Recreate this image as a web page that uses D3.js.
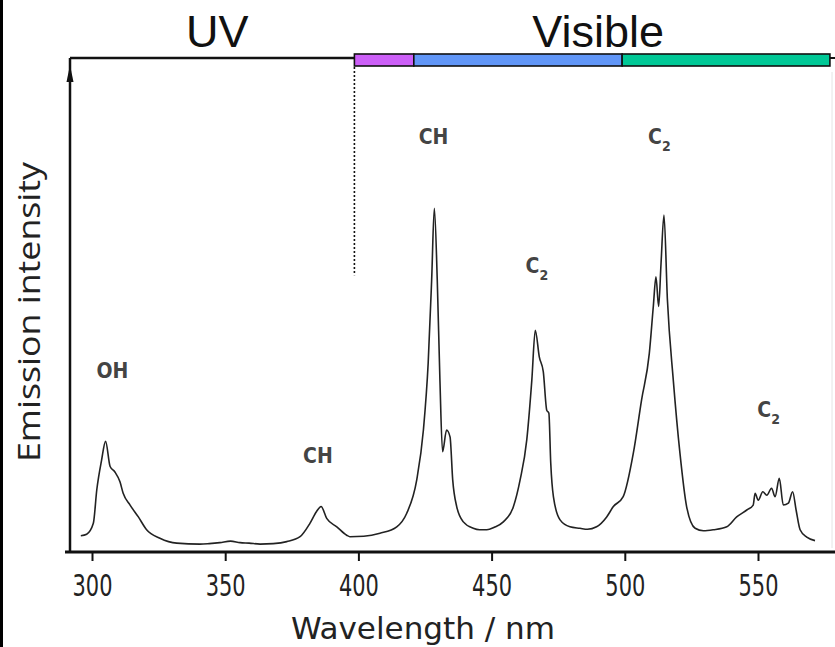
<!DOCTYPE html>
<html><head><meta charset="utf-8">
<script src="https://cdn.jsdelivr.net/npm/d3@7"></script>
<style>body{margin:0;background:#fff}svg{display:block}</style>
</head><body>
<svg id="c" width="835" height="647"></svg>
<script>
// wavelength (nm) of traced spectrum points
const wavelength = [295.8,298.0,300.5,301.8,303.6,305.1,306.8,308.6,310.5,311.7,314.3,317.4,320.5,325.5,331.8,340.5,344.0,348.0,352.0,355.6,359.0,363.1,368.0,373.1,378.1,381.8,384.3,386.0,388.1,391.9,395.6,396.8,402.0,408.1,414.4,418.1,421.9,424.4,426.2,427.5,428.5,429.6,430.6,431.6,433.1,434.4,435.4,436.9,439.4,443.1,445.5,448.2,451.0,454.4,458.2,460.7,463.2,465.1,466.4,467.9,469.4,470.7,471.5,472.2,473.2,475.7,479.4,483.2,486.0,489.4,493.2,495.7,499.4,503.2,506.3,509.2,510.7,511.7,512.7,513.6,514.7,516.0,518.2,520.7,523.2,526.4,529.5,533.2,538.3,542.0,545.8,548.2,548.9,550.1,551.8,553.3,555.1,556.4,558.0,559.5,561.4,563.0,564.3,565.8,568.3,571.4];
// emission intensity (arbitrary units, 0-100)
const intensity = [3.3,3.6,5.8,12.6,18.6,22.4,17.3,16.2,14.2,11.9,9.5,7.1,4.5,2.8,1.8,1.6,1.7,1.9,2.2,1.9,1.8,1.6,1.7,2.1,3.1,5.8,8.2,9.2,6.8,5.1,3.4,3.1,3.2,3.8,5.1,7.8,14.6,24.7,38.3,55.1,69.6,55.1,34.8,20.3,24.7,23.3,14.6,9.2,6.1,4.8,4.5,4.5,5.0,6.1,9.2,14.6,22.7,34.8,44.9,39.5,36.5,28.7,28.1,18.0,11.2,6.5,5.1,4.8,4.6,5.1,7.1,9.2,11.2,20.0,30.8,40.2,49.7,55.7,49.7,58.4,68.2,51.0,34.8,20.0,9.2,4.8,4.3,4.5,5.1,7.1,8.5,9.5,11.9,10.5,12.2,11.5,12.9,11.2,14.9,9.5,9.9,12.2,8.5,4.5,3.0,2.3];
const xTicks = [300,350,400,450,500,550];
// band labels: species, subscript, wavelength, intensity
const peakLabels = ["OH","CH","CH","C","C","C"];
const peakSubs = ["","","","2","2","2"];
const peakWl = [307.7,384.8,428.2,467.0,513.0,554.0];
const peakInt = [35.3,18.0,82.5,56.5,82.5,27.3];
// spectral regions of the top bar
const bandFrom = [398.5,420.8,499.0];
const bandTo = [420.8,499.0,577.0];
const bandColor = ["#cc5ff7","#6196f7","#00c896"];
const regionNames = ["UV","Visible"];
const regionCenter = [347,490];

const svg = d3.select("#c");
const x = d3.scaleLinear().domain([300,550]).range([92,758]);
const y = d3.scaleLinear().domain([0,100]).range([552,58]);

// left black border
svg.append("rect").attr("x",0).attr("y",0).attr("width",3).attr("height",647).attr("fill","#000");
// faint right edge
svg.append("line").attr("x1",832).attr("x2",832).attr("y1",72).attr("y2",548).attr("stroke","#e4e4e4").attr("stroke-width",1);

// top frame line (UV part)
svg.append("line").attr("x1",70).attr("x2",x(bandFrom[0])).attr("y1",y(100)).attr("y2",y(100)).attr("stroke","#111").attr("stroke-width",2.5);
svg.append("line").attr("x1",x(bandTo[2])).attr("x2",835).attr("y1",y(100)).attr("y2",y(100)).attr("stroke","#111").attr("stroke-width",2);

// colour bar
svg.selectAll("rect.band").data(bandFrom).join("rect").attr("class","band")
  .attr("x",(d)=>x(d)).attr("width",(d,i)=>x(bandTo[i])-x(d))
  .attr("y",54).attr("height",12)
  .attr("fill",(d,i)=>bandColor[i]).attr("stroke","#111").attr("stroke-width",1.6);

// dotted divider at the UV / visible boundary
svg.append("line").attr("x1",x(bandFrom[0])).attr("x2",x(bandFrom[0])).attr("y1",67).attr("y2",y(56))
  .attr("stroke","#111").attr("stroke-width",1.6).attr("stroke-dasharray","2,2");

// region names
svg.selectAll("text.region").data(regionNames).join("text").attr("class","region")
  .attr("x",(d,i)=>x(regionCenter[i])).attr("y",47).attr("text-anchor","middle")
  .attr("font-family","Liberation Sans, Arial, sans-serif").attr("font-size",45)
  .attr("fill","#111").text(d=>d);

// y axis with arrow
svg.append("line").attr("x1",70).attr("x2",70).attr("y1",y(100)).attr("y2",553).attr("stroke","#111").attr("stroke-width",2.5);
svg.append("path").attr("d","M70,65 L66.5,82 L73.5,82 Z").attr("fill","#111");

// x axis
svg.append("line").attr("x1",65).attr("x2",835).attr("y1",552).attr("y2",552).attr("stroke","#111").attr("stroke-width",3);
const ax = svg.append("g").attr("transform","translate(0,552)")
  .call(d3.axisBottom(x).tickValues(xTicks).tickSize(9).tickFormat(d3.format("d")));
ax.select(".domain").remove();
ax.selectAll(".tick line").attr("stroke","#111").attr("stroke-width",2);
ax.selectAll(".tick text").attr("y",22).attr("dy","0.71em")
  .attr("font-family","DejaVu Sans Condensed, DejaVu Sans, sans-serif").attr("font-size",31)
  .attr("fill","#222").attr("textLength",40).attr("lengthAdjust","spacingAndGlyphs");

// axis titles
svg.append("text").attr("x",423).attr("y",639).attr("text-anchor","middle")
  .attr("font-family","DejaVu Sans Condensed, DejaVu Sans, sans-serif").attr("font-size",30)
  .attr("fill","#222").attr("textLength",264).attr("lengthAdjust","spacingAndGlyphs").text("Wavelength / nm");
svg.append("text").attr("transform","translate(40,312) rotate(-90)").attr("text-anchor","middle")
  .attr("font-family","Open Sans, sans-serif").attr("font-size",31)
  .attr("fill","#222").attr("textLength",300).attr("lengthAdjust","spacingAndGlyphs").text("Emission intensity");

// spectrum
const pts = wavelength.map((w,i)=>[w,intensity[i]]);
svg.append("path").datum(pts)
  .attr("d",d3.line().x(d=>x(d[0])).y(d=>y(d[1])).curve(d3.curveMonotoneX))
  .attr("fill","none").attr("stroke","#222").attr("stroke-width",1.6).attr("stroke-linejoin","round");

// peak labels
const lab = svg.selectAll("text.peak").data(peakLabels).join("text").attr("class","peak")
  .attr("x",(d,i)=>x(peakWl[i])).attr("y",(d,i)=>y(peakInt[i]))
  .attr("text-anchor","middle")
  .attr("font-family","DejaVu Sans Condensed, DejaVu Sans, sans-serif").attr("font-size",21)
  .attr("font-weight","bold").attr("fill","#444");
lab.append("tspan").text(d=>d);
lab.append("tspan").attr("font-size",14).attr("dy",7).text((d,i)=>peakSubs[i]);
</script>
</body></html>
